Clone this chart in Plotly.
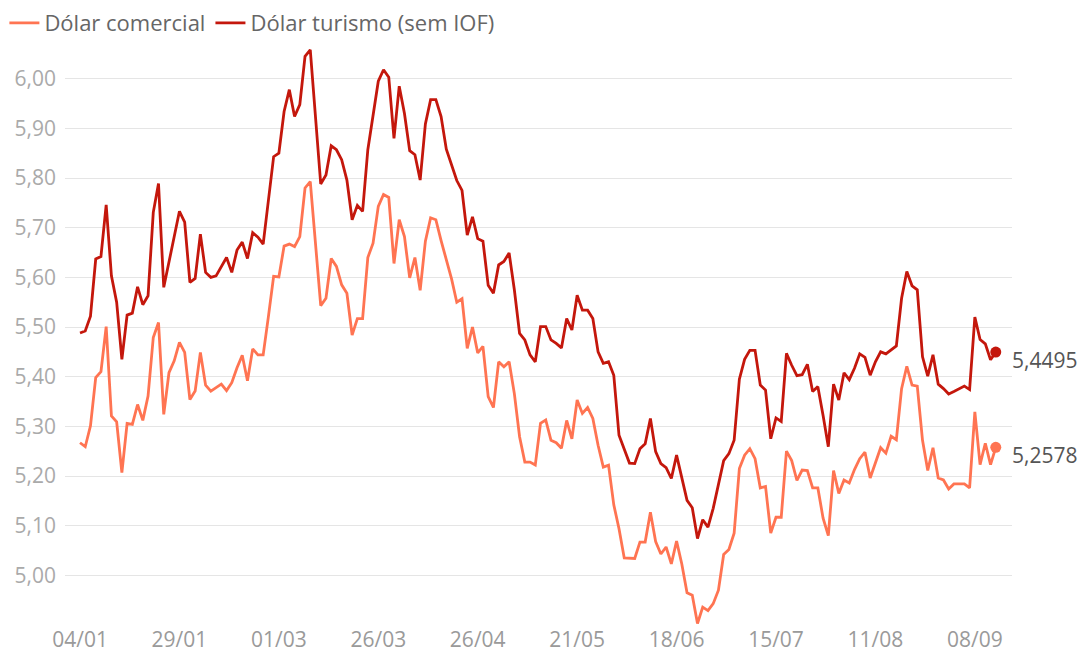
import pandas as pd
import plotly.graph_objects as go

# Trading days (B3, 2021) from 04/01 to 14/09
start_date = "2021-01-04"
end_date = "2021-09-14"
holidays = ["2021-02-15", "2021-02-16", "2021-04-02", "2021-04-21", "2021-06-03", "2021-09-07"]
days = [d for d in pd.bdate_range(start_date, end_date) if d.strftime("%Y-%m-%d") not in holidays]
categories = [d.strftime("%d/%m") for d in days]

tick_labels = ["04/01", "29/01", "01/03", "26/03", "26/04", "21/05", "18/06", "15/07", "11/08", "08/09"]
y_ticks = [5.0, 5.1, 5.2, 5.3, 5.4, 5.5, 5.6, 5.7, 5.8, 5.9, 6.0]

comercial = [
    5.267, 5.259, 5.301, 5.398, 5.410, 5.501, 5.321, 5.309, 5.207, 5.306,
    5.304, 5.344, 5.312, 5.361, 5.479, 5.509, 5.324, 5.408, 5.432, 5.469,
    5.449, 5.354, 5.371, 5.449, 5.383, 5.371, 5.378, 5.385, 5.372, 5.388,
    5.418, 5.443, 5.392, 5.456, 5.444, 5.444, 5.521, 5.602, 5.601, 5.663,
    5.667, 5.662, 5.682, 5.780, 5.793, 5.675, 5.543, 5.558, 5.638, 5.622,
    5.585, 5.568, 5.484, 5.517, 5.517, 5.640, 5.669, 5.743, 5.767, 5.761,
    5.628, 5.716, 5.682, 5.599, 5.640, 5.574, 5.673, 5.720, 5.716, 5.674,
    5.635, 5.597, 5.550, 5.557, 5.457, 5.500, 5.448, 5.461, 5.360, 5.338,
    5.430, 5.420, 5.430, 5.366, 5.279, 5.228, 5.228, 5.222, 5.306, 5.313,
    5.272, 5.267, 5.256, 5.312, 5.275, 5.353, 5.326, 5.338, 5.316, 5.262,
    5.218, 5.222, 5.142, 5.094, 5.035, 5.034, 5.034, 5.067, 5.067, 5.127,
    5.068, 5.043, 5.057, 5.023, 5.069, 5.023, 4.965, 4.960, 4.903, 4.936,
    4.929, 4.943, 4.970, 5.042, 5.052, 5.085, 5.215, 5.242, 5.255, 5.235,
    5.176, 5.179, 5.085, 5.117, 5.117, 5.250, 5.231, 5.191, 5.212, 5.211,
    5.176, 5.176, 5.115, 5.080, 5.211, 5.165, 5.192, 5.186, 5.213, 5.235,
    5.248, 5.196, 5.226, 5.257, 5.246, 5.280, 5.273, 5.376, 5.421, 5.383,
    5.381, 5.272, 5.211, 5.257, 5.196, 5.192, 5.174, 5.184, 5.184, 5.184,
    5.176, 5.329, 5.223, 5.266, 5.223, 5.2578,
]

turismo = [
    5.488, 5.492, 5.522, 5.637, 5.642, 5.746, 5.603, 5.550, 5.435, 5.524,
    5.528, 5.581, 5.545, 5.563, 5.731, 5.789, 5.580, 5.633, 5.680, 5.733,
    5.711, 5.590, 5.598, 5.687, 5.610, 5.600, 5.603, 5.621, 5.640, 5.610,
    5.655, 5.671, 5.638, 5.690, 5.681, 5.667, 5.756, 5.843, 5.850, 5.934,
    5.978, 5.924, 5.948, 6.045, 6.058, 5.925, 5.788, 5.806, 5.865, 5.857,
    5.837, 5.796, 5.716, 5.745, 5.733, 5.857, 5.924, 5.995, 6.018, 6.003,
    5.880, 5.985, 5.930, 5.855, 5.847, 5.796, 5.909, 5.958, 5.958, 5.924,
    5.858, 5.825, 5.795, 5.775, 5.685, 5.722, 5.678, 5.673, 5.584, 5.568,
    5.625, 5.632, 5.649, 5.575, 5.487, 5.474, 5.444, 5.430, 5.501, 5.501,
    5.474, 5.467, 5.458, 5.517, 5.494, 5.564, 5.534, 5.534, 5.517, 5.450,
    5.427, 5.430, 5.403, 5.282, 5.252, 5.226, 5.225, 5.255, 5.265, 5.316,
    5.249, 5.225, 5.217, 5.195, 5.242, 5.198, 5.151, 5.136, 5.074, 5.112,
    5.097, 5.135, 5.180, 5.231, 5.245, 5.272, 5.395, 5.435, 5.453, 5.453,
    5.383, 5.373, 5.275, 5.317, 5.310, 5.447, 5.423, 5.402, 5.404, 5.425,
    5.370, 5.380, 5.322, 5.259, 5.385, 5.353, 5.408, 5.394, 5.417, 5.446,
    5.439, 5.403, 5.430, 5.450, 5.446, 5.454, 5.462, 5.558, 5.612, 5.583,
    5.575, 5.440, 5.401, 5.444, 5.385, 5.376, 5.365, 5.370, 5.376, 5.381,
    5.374, 5.520, 5.475, 5.466, 5.434, 5.4495,
]

names = ["Dólar comercial", "Dólar turismo (sem IOF)"]
colors = ["#FF7452", "#C4170C"]
series = [comercial, turismo]
end_labels = ["5,2578", "5,4495"]

FONT = "Open Sans, Noto Sans, sans-serif"

fig = go.Figure()
for name, color, vals in zip(names, colors, series):
    fig.add_trace(go.Scatter(
        x=categories, y=vals, mode="lines", name=name,
        line=dict(color=color, width=2.8), hoverinfo="skip",
    ))
for name, color, vals, lab in zip(names, colors, series, end_labels):
    fig.add_trace(go.Scatter(
        x=[categories[-1]], y=[vals[-1]], mode="markers", showlegend=False,
        marker=dict(color=color, size=11), hoverinfo="skip",
    ))
    fig.add_annotation(
        x=categories[-1], y=vals[-1], xref="x", yref="y", text=lab,
        showarrow=False, xanchor="left", yanchor="middle", xshift=14, yshift=-8,
        font=dict(family=FONT, size=21, color="#555555"),
    )

n = len(categories)
# page body has an 8px margin, so the figure is sized/offset to land on 1088x657
fig.update_layout(
    width=1080, height=649,
    margin=dict(l=57, r=76, t=31, b=32, autoexpand=False),
    paper_bgcolor="white", plot_bgcolor="white",
    separators=",.",
    font=dict(family=FONT),
    showlegend=True,
    legend=dict(
        orientation="h", xref="paper", yref="paper",
        x=-0.064, y=1.063, xanchor="left", yanchor="top",
        font=dict(family=FONT, size=22, color="#666666"),
        itemwidth=30, tracegroupgap=0, bgcolor="rgba(0,0,0,0)",
    ),
    xaxis=dict(
        type="category", range=[-2.87, n + 2.1],
        tickmode="array", tickvals=tick_labels, ticktext=tick_labels,
        showgrid=False, zeroline=False, showline=False, ticks="",
        tickfont=dict(family=FONT, size=21, color="#9a9a9a"),
    ),
    yaxis=dict(
        range=[4.90, 6.08], tickmode="array", tickvals=y_ticks,
        tickformat=".2f", showgrid=True, gridcolor="#e5e5e5", gridwidth=1,
        zeroline=False, showline=False, ticks="", ticklabelstandoff=8,
        tickfont=dict(family=FONT, size=21, color="#aaaaaa"),
    ),
)

fig.write_html("out.html")
